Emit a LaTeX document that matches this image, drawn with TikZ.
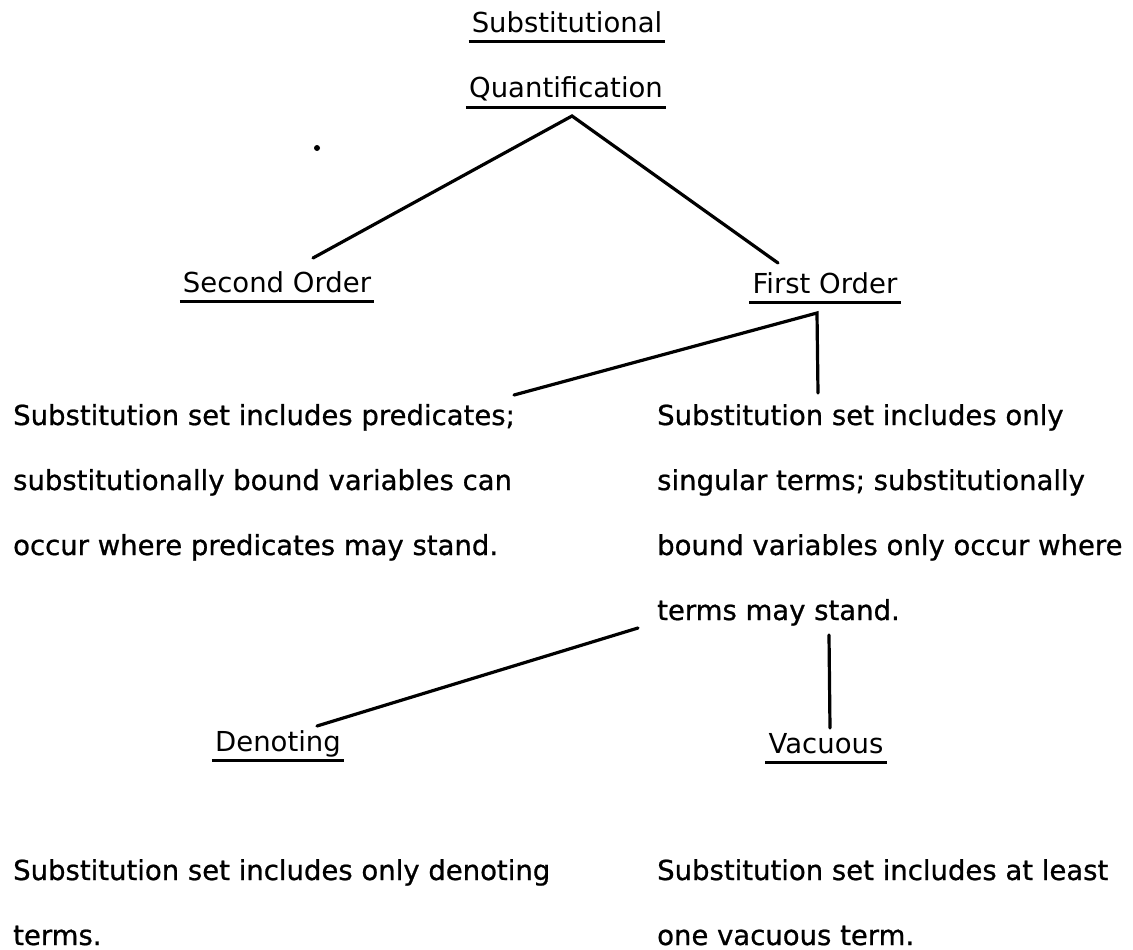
\documentclass[tikz,border=0pt]{standalone}
\usepackage{fontspec}
\setmainfont{DejaVu Sans}
\newfontfamily\bodyfont[FakeBold=0.8]{DejaVu Sans}
\begin{document}
\begin{tikzpicture}[x=1pt,y=-1pt,
  lbl/.style={inner sep=0pt, font=\fontsize{27.5}{65}\selectfont},
  head/.style={lbl, anchor=base},
  para/.style={inner sep=0pt, font=\bodyfont\fontsize{27.5}{65}\selectfont, anchor=base west, align=left},
  conn/.style={line width=3.2pt, line cap=round, line join=miter},
  uline/.style={line width=3pt}]
\fill[white] (0,0) rectangle (1133,950);
\useasboundingbox (0,0) rectangle (1133,950);

% headings
\node[head] (subst) at (567,33) {Substitutional};
\node[head] (quant) at (566,98) {Quantification};
\node[head] (second) at (277,292) {Second Order};
\node[head] (first) at (825,293) {First Order};
\node[head] (denot) at (278,751) {Denoting};
\node[head] (vacu) at (826,753) {Vacuous};

\foreach \n in {subst,quant,second,first,denot,vacu}{
  \draw[uline] ([xshift=-3pt,yshift=-9pt]\n.base west) -- ([xshift=3pt,yshift=-9pt]\n.base east);
}

% descriptions (anchored at the baseline of their last line)
\node[para] (predset) at (13,555) {Substitution set includes predicates;\\substitutionally bound variables can\\occur where predicates may stand.};
\node[para] (termset) at (657,620) {Substitution set includes only\\singular terms; substitutionally\\bound variables only occur where\\terms may stand.};
\node[para] (denset) at (13,945) {Substitution set includes only denoting\\terms.};
\node[para] (vacset) at (657,945) {Substitution set includes at least\\one vacuous term.};

% connector end points
\coordinate (qapex) at (572,116);
\coordinate (secondtop) at (313,258);
\coordinate (firsttop) at (778,263);
\coordinate (fapex) at (817,313);
\coordinate (predtop) at (514,395);
\coordinate (termtop) at (818,393);
\coordinate (termleft) at (638,628);
\coordinate (termbot) at (829,635);
\coordinate (denottop) at (317,726);
\coordinate (vacutop) at (830,728);

\draw[conn] (secondtop) -- (qapex) -- (firsttop);
\draw[conn] (predtop) -- (fapex) -- (termtop);
\draw[conn] (termleft) -- (denottop);
\draw[conn] (termbot) -- (vacutop);

% stray dot
\fill (317,148) circle (3pt);
\end{tikzpicture}
\end{document}
